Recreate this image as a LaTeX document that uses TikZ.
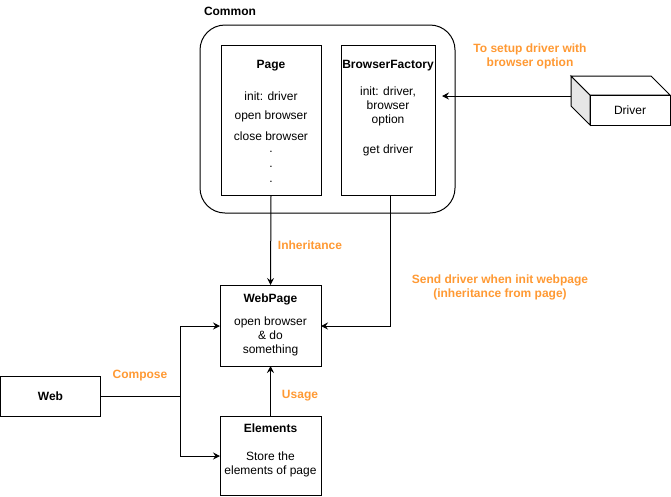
\documentclass[tikz,border=0pt]{standalone}
\usepackage{fontspec}
\setmainfont{Liberation Sans}
\usetikzlibrary{arrows.meta}
\definecolor{note}{HTML}{FF9933}
\definecolor{sideface}{HTML}{E6E6E6}

\begin{document}
\begin{tikzpicture}[x=1pt, y=-1pt,
  font=\fontsize{12}{14}\selectfont,
  every node/.style={inner sep=0pt, outer sep=0pt},
  line/.style={line width=1pt, line cap=butt},
  arr/.style={line, -{Stealth[length=7pt, width=7pt, inset=2.5pt]}},
  box/.style={draw, line width=1pt, fill=white},
  title/.style={font=\fontsize{12}{14}\selectfont\bfseries},
  label/.style={text=note, font=\fontsize{12}{14}\selectfont\bfseries, align=center},
  txt/.style={align=center}]

  \useasboundingbox (0,0) rectangle (671,496);

  % Common group
  \node[box, rounded corners=25pt, minimum width=255pt, minimum height=188pt] (common) at (327.5,119) {};
  \node[title, anchor=west] (commonlbl) at (204,11) {Common};

  % Page class
  \node[box, minimum width=100pt, minimum height=150pt] (page) at (271,120.5) {};
  \node[title] (pagettl) at (271,66) {Page};
  \node (p1) at (271,96) {init: driver};
  \node (p2) at (271,116) {open browser};
  \node (p3) at (271,136) {close browser};
  \node (p4) at (271,152) {.};
  \node (p5) at (271,167) {.};
  \node (p6) at (271,182) {.};

  % BrowserFactory class
  \node[box, minimum width=94pt, minimum height=150pt] (bf) at (388,120.5) {};
  \node[title] (bfttl) at (388,66) {BrowserFactory};
  \node[txt] (bf1) at (388,106) {init: driver,\\browser\\option};
  \node (bf2) at (388,150) {get driver};

  % Driver cube
  \draw[line, fill=sideface] (571,76) -- (590,95) -- (590,125) -- (571,106) -- cycle;
  \draw[line, fill=white] (571,76) -- (651,76) -- (670,95) -- (590,95) -- cycle;
  \node[box, minimum width=80pt, minimum height=30pt] (driver) at (630,110) {Driver};
  \coordinate (drvout) at (571,96);
  \coordinate (drvin) at (442,96);

  % WebPage
  \node[box, minimum width=101pt, minimum height=81pt] (webpage) at (270.5,325.5) {};
  \node[title] (wpttl) at (270.5,299) {WebPage};
  \node[txt] (wp1) at (270.5,336) {open browser\\\& do\\something};

  % Elements
  \node[box, minimum width=101pt, minimum height=79pt] (elements) at (270.5,455.5) {};
  \node[title] (elttl) at (270.5,428) {Elements};
  \node[txt] (el1) at (270.5,464) {Store the\\elements of page};

  % Web
  \node[box, minimum width=100pt, minimum height=40pt, font=\fontsize{12}{14}\selectfont\bfseries] (web) at (50.5,396) {Web};

  % Connectors
  \draw[arr] (drvout) -- (drvin);
  \draw[arr] (page.south) -- (webpage.north);
  \draw[arr] ([xshift=2pt]bf.south) |- ([yshift=-0.5pt]webpage.east);
  \coordinate (split) at (180,396);
  \draw[line] (web.east) -- (split);
  \draw[arr] (split) |- ([yshift=-0.5pt]webpage.west);
  \draw[arr] (split) |- ([yshift=-0.5pt]elements.west);
  \draw[arr] (elements.north) -- (webpage.south);

  % Connector labels
  \node[label] (l1) at (530,56) {To setup driver with\\browser option};
  \node[label] (l2) at (310,245) {Inheritance};
  \node[label] (l3) at (500,287) {Send driver when init webpage\\(inheritance from page)};
  \node[label] (l4) at (140,376) {Compose};
  \node[label] (l5) at (300,396) {Usage};
\end{tikzpicture}
\end{document}
